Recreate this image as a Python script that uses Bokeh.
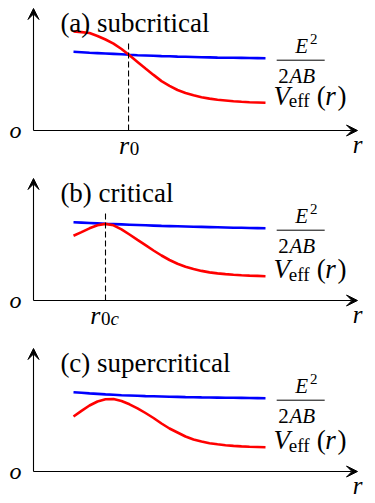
from bokeh.plotting import figure
from bokeh.models import Range1d, Arrow, VeeHead, Label
from bokeh.embed import file_html
from bokeh.resources import INLINE

# ---- data (schematic units: r along the horizontal axis, V along the vertical axis) ----
r = [1.25, 1.50, 1.75, 2.00, 2.25, 2.50, 2.75, 3.00, 3.25, 3.50, 3.75, 4.00, 4.25,
     4.50, 4.75, 5.00, 5.25, 5.50, 5.75, 6.00, 6.25, 6.50, 6.75, 7.00, 7.25]

veff_a = [0.990, 0.984, 0.975, 0.945, 0.910, 0.869, 0.815, 0.752, 0.686, 0.620, 0.556, 0.494, 0.447,
          0.405, 0.375, 0.352, 0.333, 0.319, 0.307, 0.300, 0.293, 0.287, 0.283, 0.280, 0.277]
energy_a = [0.787, 0.783, 0.778, 0.774, 0.770, 0.766, 0.762, 0.757, 0.753, 0.750, 0.747, 0.744, 0.742,
            0.739, 0.737, 0.735, 0.733, 0.731, 0.729, 0.728, 0.727, 0.726, 0.725, 0.724, 0.723]

veff_b = [0.648, 0.684, 0.722, 0.752, 0.766, 0.752, 0.712, 0.660, 0.606, 0.553, 0.500, 0.450, 0.405,
          0.368, 0.338, 0.315, 0.296, 0.281, 0.271, 0.264, 0.258, 0.253, 0.249, 0.246, 0.243]
energy_b = [0.783, 0.779, 0.775, 0.771, 0.767, 0.764, 0.761, 0.758, 0.755, 0.752, 0.749, 0.746, 0.744,
            0.742, 0.740, 0.738, 0.736, 0.734, 0.732, 0.730, 0.728, 0.727, 0.725, 0.724, 0.723]

veff_c = [0.550, 0.606, 0.660, 0.700, 0.722, 0.725, 0.705, 0.672, 0.632, 0.585, 0.535, 0.480, 0.430,
          0.390, 0.350, 0.320, 0.300, 0.283, 0.272, 0.263, 0.256, 0.251, 0.247, 0.245, 0.243]
energy_c = [0.793, 0.787, 0.781, 0.776, 0.771, 0.767, 0.763, 0.760, 0.757, 0.754, 0.752, 0.750, 0.748,
            0.746, 0.744, 0.743, 0.741, 0.740, 0.739, 0.738, 0.737, 0.736, 0.735, 0.734, 0.733]

titles = ["(a) subcritical", "(b) critical", "(c) supercritical"]
marks = [2.97, 2.25, None]          # r0, r0c, none
mark_subs = ["0", "0c", None]

# ---- layout ----
SERIF = "'Liberation Serif', 'DejaVu Serif', serif"
X_RANGE = (-1.03125, 10.6875)
TDY = 0.07   # small upward nudge applied to every text baseline
# each panel gets its own vertical scale (same 100 px per unit, different zero line)
panels = [
    dict(name="pa", veff=veff_a, energy=energy_a, title=titles[0], mark=marks[0], sub=mark_subs[0],
         yr=(-3.73, 1.30), ytop=1.22, dtop=0.90, ttl=1.01),
    dict(name="pb", veff=veff_b, energy=energy_b, title=titles[1], mark=marks[1], sub=mark_subs[1],
         yr=(-2.03, 3.00), ytop=1.22, dtop=0.89, ttl=1.01),
    dict(name="pc", veff=veff_c, energy=energy_c, title=titles[2], mark=marks[2], sub=mark_subs[2],
         yr=(-0.32, 4.71), ytop=1.23, dtop=None, ttl=1.02),
]
XTIP = 10.125

p = figure(width=375, height=503, x_range=Range1d(*X_RANGE), y_range=Range1d(*panels[0]["yr"]),
           output_backend="svg", toolbar_location=None, x_axis_type=None, y_axis_type=None,
           min_border=0)
p.outline_line_color = None
p.background_fill_color = "white"
p.border_fill_color = "white"
p.extra_y_ranges = {pn["name"]: Range1d(*pn["yr"]) for pn in panels}


def lab(rn, x, y, text, size, style="normal", align="left"):
    p.add_layout(Label(x=x, y=y + TDY, y_range_name=rn, text=text, text_font=SERIF,
                       text_font_size=size, text_font_style=style, text_align=align,
                       text_baseline="alphabetic", text_color="black"))


for pn in panels:
    rn = pn["name"]
    # curves
    p.line(r, pn["energy"], color="#0000ff", line_width=2.6, y_range_name=rn)
    p.line(r, pn["veff"], color="#ff0000", line_width=2.6, y_range_name=rn)

    # axes with arrows
    p.add_layout(Arrow(end=VeeHead(size=11, fill_color="black", line_color="black", line_width=1),
                       x_start=0, y_start=0, x_end=0, y_end=pn["ytop"], y_range_name=rn,
                       line_color="black", line_width=1.1))
    p.add_layout(Arrow(end=VeeHead(size=11, fill_color="black", line_color="black", line_width=1),
                       x_start=0, y_start=0, x_end=XTIP, y_end=0, y_range_name=rn,
                       line_color="black", line_width=1.1))

    lab(rn, -0.5625, -0.06, "o", "24px", "italic", "center")
    lab(rn, XTIP, -0.21, "r", "25px", "italic", "center")

    # title
    lab(rn, 0.84, pn["ttl"], pn["title"], "27px")

    # dashed marker
    if pn["mark"] is not None:
        m = pn["mark"]
        p.segment(x0=[m], y0=[0], x1=[m], y1=[pn["dtop"]], line_dash="6 3", color="black",
                  line_width=1.1, y_range_name=rn)
        if pn["sub"] == "0":
            lab(rn, m + 0.02, -0.22, "r", "26px", "italic", "right")
            lab(rn, m + 0.04, -0.25, "0", "19px")
        else:
            lab(rn, m - 0.16, -0.22, "r", "26px", "italic", "right")
            lab(rn, m - 0.14, -0.25, "0", "19px")
            lab(rn, m + 0.16, -0.25, "c", "19px", "italic")

    # fraction label E^2 / 2AB
    ybar = pn["energy"][-1] - 0.02
    p.segment(x0=[7.6], y0=[ybar], x1=[9.1], y1=[ybar], color="black", line_width=1, y_range_name=rn)
    lab(rn, 8.38, ybar + 0.07, "E", "21px", "italic", "center")
    lab(rn, 8.64, ybar + 0.14, "2", "15px")
    lab(rn, 7.98, ybar - 0.23, "2", "21px", "normal", "right")
    lab(rn, 8.0, ybar - 0.23, "AB", "21px", "italic", "left")

    # V_eff(r) label
    yv = pn["veff"][-1]
    lab(rn, 7.5, yv, "V", "27px", "italic")
    lab(rn, 7.98, yv - 0.05, "eff", "19px")
    lab(rn, 8.85, yv, "(", "27px")
    lab(rn, 9.12, yv, "r", "27px", "italic")
    lab(rn, 9.5, yv, ")", "27px")

open("out.html", "w").write(file_html(p, INLINE))
